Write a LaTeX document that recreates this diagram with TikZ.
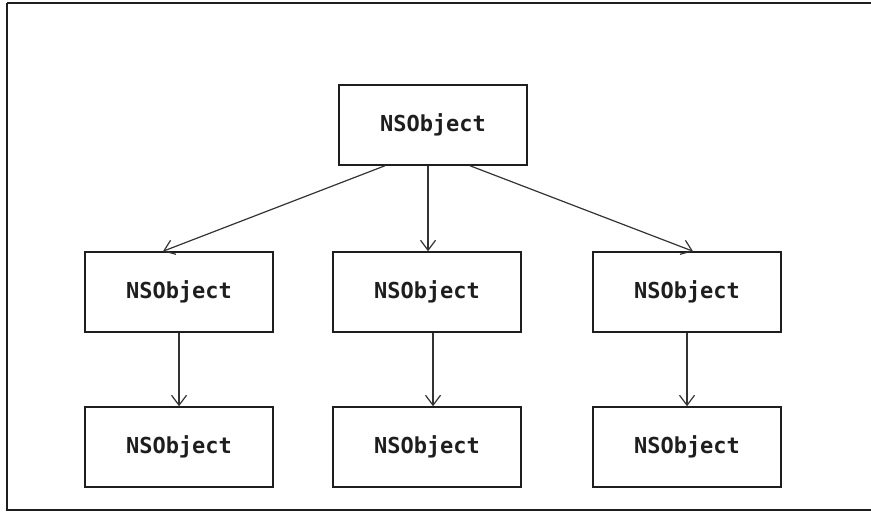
\documentclass[tikz,border=0pt]{standalone}
\usepackage{fontspec}
\setmonofont{DejaVu Sans Mono}
\usetikzlibrary{arrows.meta}
\definecolor{ink}{HTML}{1E1E1E}
\definecolor{wire}{HTML}{333333}
\tikzset{
  classbox/.style={draw=ink, line width=1.5pt, minimum width=188pt, minimum height=80pt,
    inner sep=0pt, font=\ttfamily\bfseries\fontsize{22}{24}\selectfont, text=ink},
  link/.style={draw=wire, line width=1.2pt,
    -{Straight Barb[length=10pt, width=15pt, line width=1.2pt]}}
}
\begin{document}
\begin{tikzpicture}[x=1pt, y=-1pt]
  \useasboundingbox (0,0) rectangle (871,513);
  % outer frame
  \draw[ink, line width=2pt] (7,3) -- (880,3) (7,3) -- (7,510) -- (880,510);

  % hierarchy boxes
  \node[classbox] (top) at (433,125) {NSObject};
  \node[classbox] (l1)  at (179,292) {NSObject};
  \node[classbox] (m1)  at (427,292) {NSObject};
  \node[classbox] (r1)  at (687,292) {NSObject};
  \node[classbox] (l2)  at (179,447) {NSObject};
  \node[classbox] (m2)  at (427,447) {NSObject};
  \node[classbox] (r2)  at (687,447) {NSObject};

  % connectors
  \draw[link] ([xshift=-48pt]top.south) -- ([xshift=-16pt]l1.north);
  \draw[link] ([xshift=-5pt]top.south)  -- ([xshift=1pt]m1.north);
  \draw[link] ([xshift=37pt]top.south)  -- ([xshift=6pt]r1.north);
  \draw[link] (l1.south) -- (l2.north);
  \draw[link] ([xshift=6pt]m1.south) -- ([xshift=6pt]m2.north);
  \draw[link] (r1.south) -- (r2.north);
\end{tikzpicture}
\end{document}
